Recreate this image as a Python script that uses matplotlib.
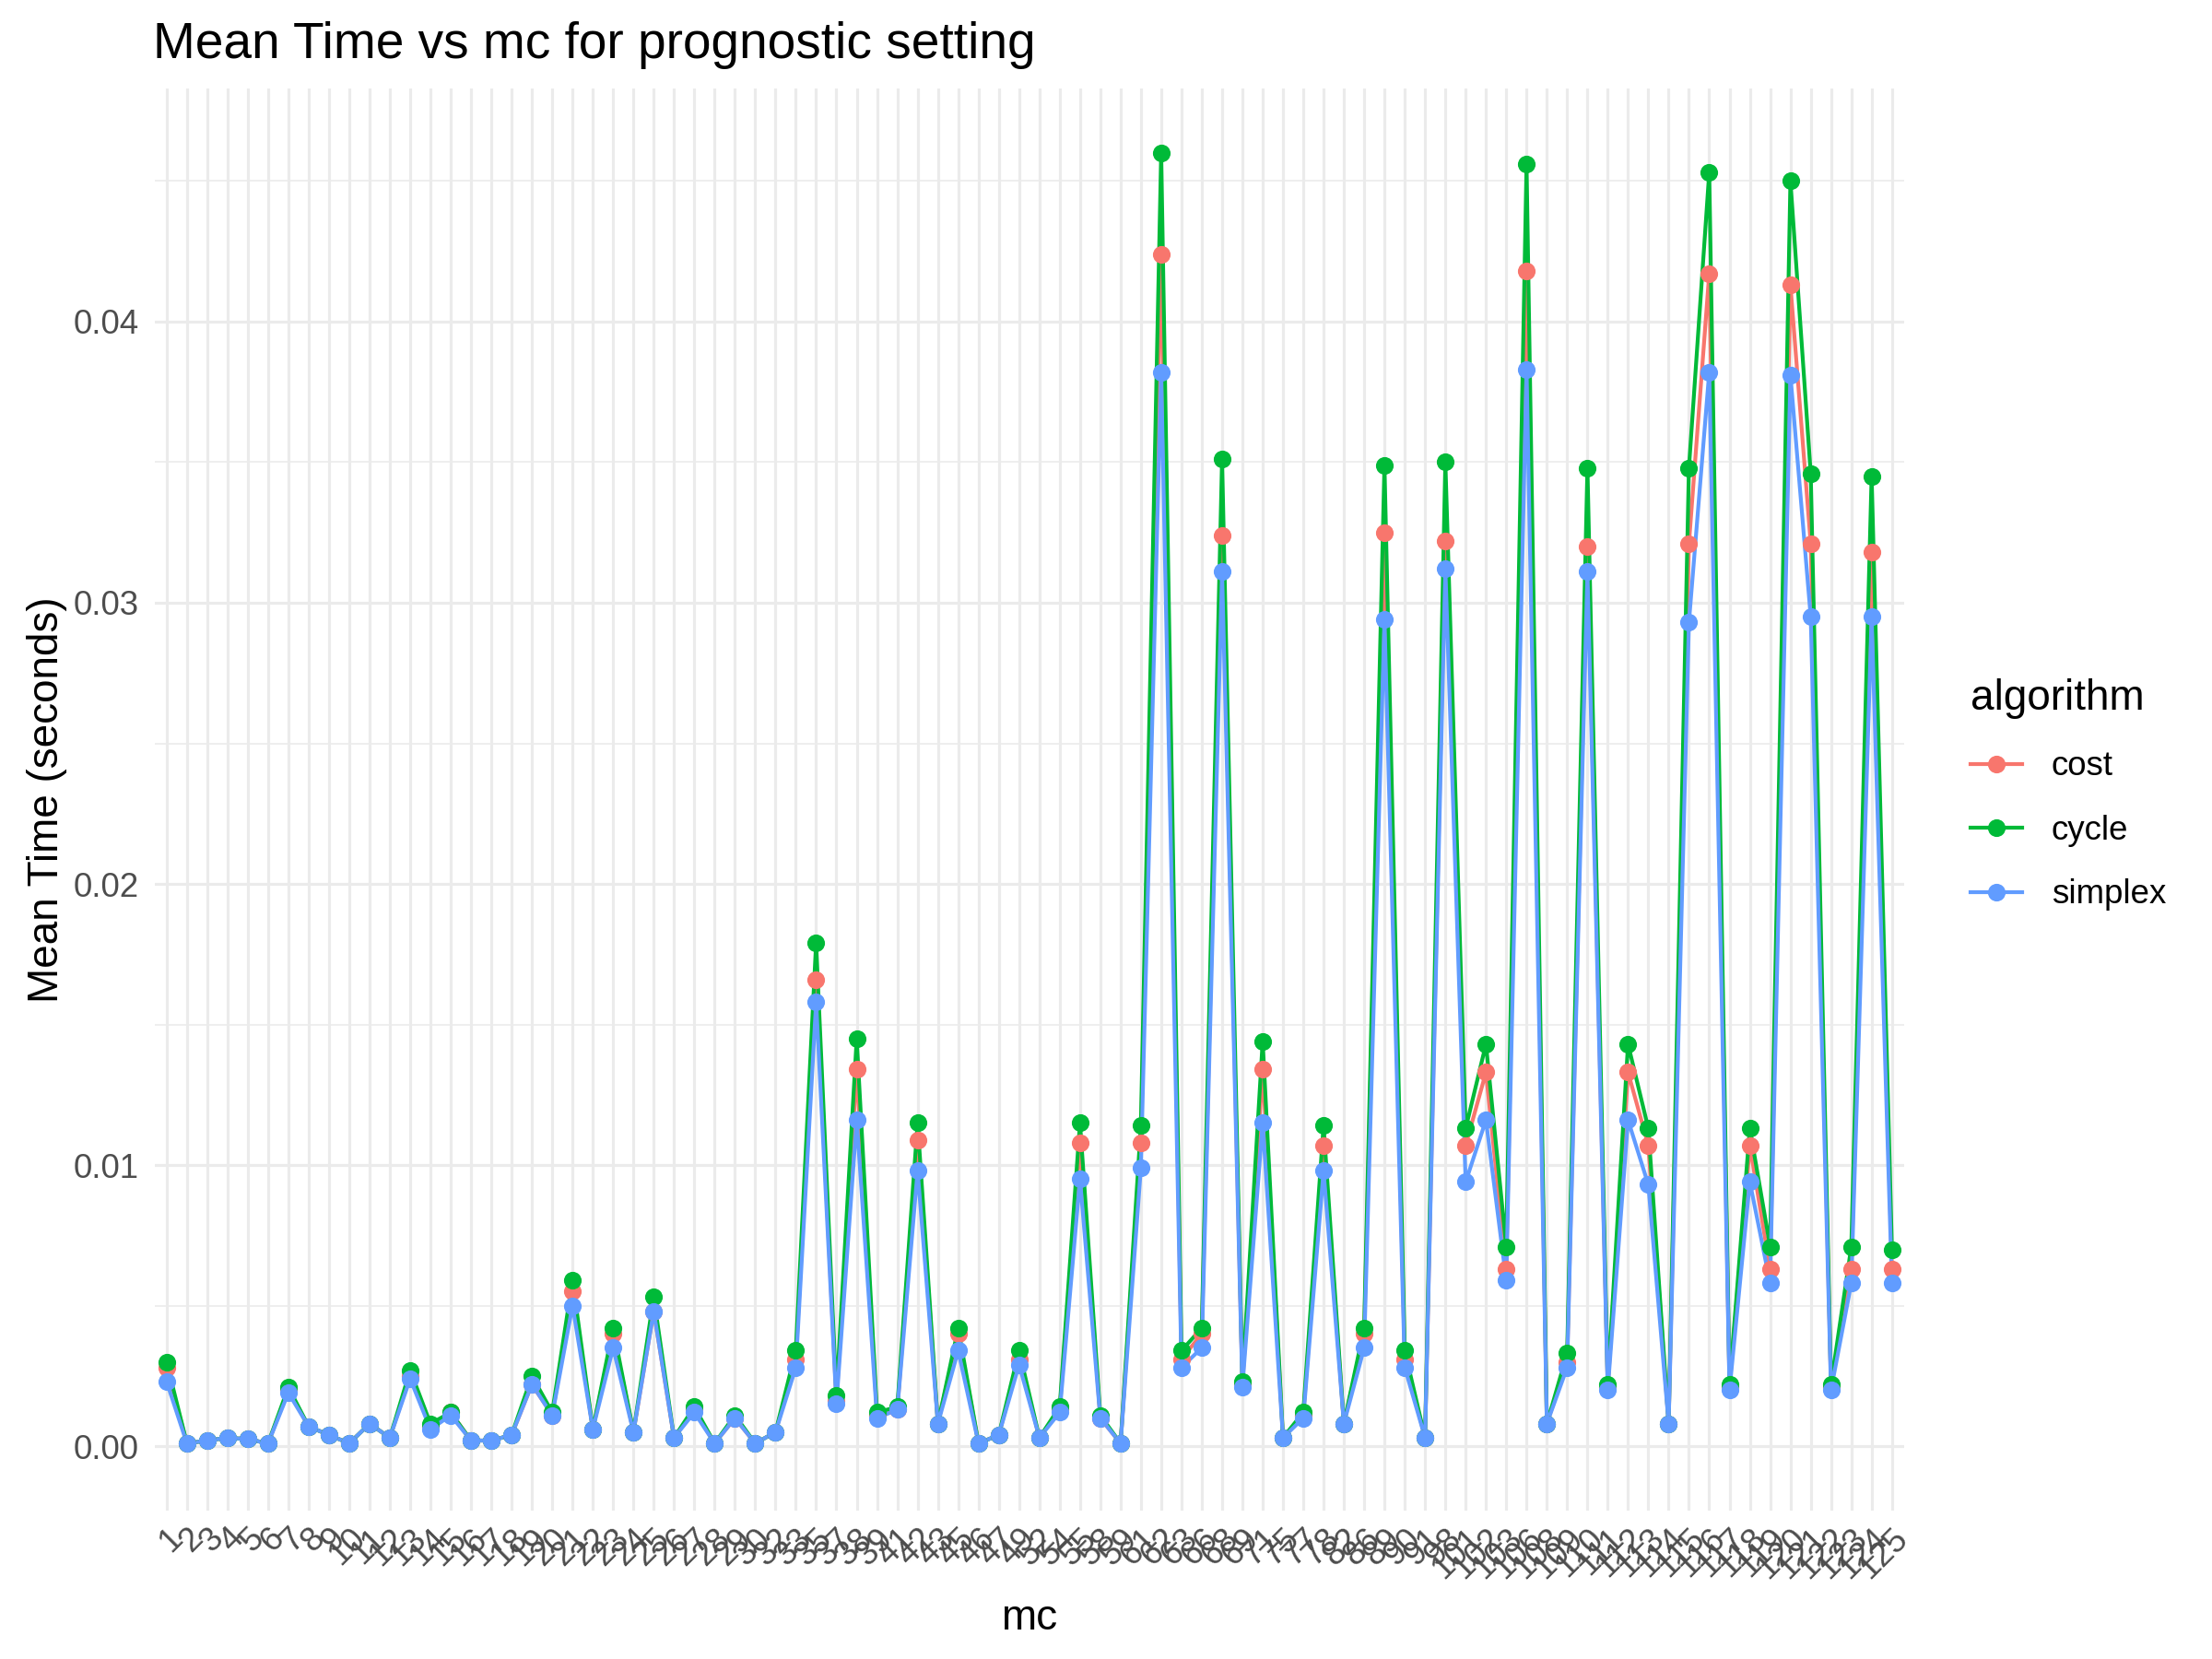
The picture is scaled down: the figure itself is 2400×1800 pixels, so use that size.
import numpy as np
import matplotlib.pyplot as plt
from matplotlib.lines import Line2D

plt.rcParams['font.family'] = ['Liberation Sans', 'DejaVu Sans']

# mc levels (plotted as discrete categories)
mc = list(range(1, 31)) + [32, 33, 35, 37, 38, 39, 41, 42, 43, 45, 46, 47, 49, 52,
                           54, 55, 58, 59, 61, 62, 63, 66, 68, 69, 71, 75, 77, 78,
                           82, 86, 89, 90, 91, 98, 101, 102, 103, 106, 108, 109,
                           110, 111, 112, 113, 114, 115, 116, 117, 118, 119, 120,
                           121, 122, 123, 124, 125]

cycle = [0.0030, 0.0001, 0.0002, 0.0003, 0.00025, 0.0001, 0.0021, 0.0007, 0.0004, 0.0001,
         0.0008, 0.0003, 0.0027, 0.0008, 0.0012, 0.0002, 0.0002, 0.0004, 0.0025, 0.0012,
         0.0059, 0.0006, 0.0042, 0.0005, 0.0053, 0.0003, 0.0014, 0.0001, 0.0011, 0.0001,
         0.0005, 0.0034, 0.0179, 0.0018, 0.0145, 0.0012, 0.0014, 0.0115, 0.0008, 0.0042,
         0.0001, 0.0004, 0.0034, 0.0003, 0.0014, 0.0115, 0.0011, 0.0001, 0.0114, 0.0460,
         0.0034, 0.0042, 0.0351, 0.0023, 0.0144, 0.0003, 0.0012, 0.0114, 0.0008, 0.0042,
         0.0349, 0.0034, 0.0003, 0.0350, 0.0113, 0.0143, 0.0071, 0.0456, 0.0008, 0.0033,
         0.0348, 0.0022, 0.0143, 0.0113, 0.0008, 0.0348, 0.0453, 0.0022, 0.0113, 0.0071,
         0.0450, 0.0346, 0.0022, 0.0071, 0.0345, 0.0070]

cost = [0.0028, 0.0001, 0.0002, 0.0003, 0.00025, 0.0001, 0.0020, 0.0007, 0.0004, 0.0001,
        0.0008, 0.0003, 0.0025, 0.0007, 0.0012, 0.0002, 0.0002, 0.0004, 0.0022, 0.0011,
        0.0055, 0.0006, 0.0040, 0.0005, 0.0048, 0.0003, 0.0013, 0.0001, 0.0010, 0.0001,
        0.0005, 0.0031, 0.0166, 0.0016, 0.0134, 0.0011, 0.0013, 0.0109, 0.0008, 0.0040,
        0.0001, 0.0004, 0.0031, 0.0003, 0.0013, 0.0108, 0.0010, 0.0001, 0.0108, 0.0424,
        0.0031, 0.0040, 0.0324, 0.0022, 0.0134, 0.0003, 0.0011, 0.0107, 0.0008, 0.0040,
        0.0325, 0.0031, 0.0003, 0.0322, 0.0107, 0.0133, 0.0063, 0.0418, 0.0008, 0.0030,
        0.0320, 0.0021, 0.0133, 0.0107, 0.0008, 0.0321, 0.0417, 0.0021, 0.0107, 0.0063,
        0.0413, 0.0321, 0.0021, 0.0063, 0.0318, 0.0063]

simplex = [0.0023, 0.0001, 0.0002, 0.0003, 0.00025, 0.0001, 0.0019, 0.0007, 0.0004, 0.0001,
           0.0008, 0.0003, 0.0024, 0.0006, 0.0011, 0.0002, 0.0002, 0.0004, 0.0022, 0.0011,
           0.0050, 0.0006, 0.0035, 0.0005, 0.0048, 0.0003, 0.0012, 0.0001, 0.0010, 0.0001,
           0.0005, 0.0028, 0.0158, 0.0015, 0.0116, 0.0010, 0.0013, 0.0098, 0.0008, 0.0034,
           0.0001, 0.0004, 0.0029, 0.0003, 0.0012, 0.0095, 0.0010, 0.0001, 0.0099, 0.0382,
           0.0028, 0.0035, 0.0311, 0.0021, 0.0115, 0.0003, 0.0010, 0.0098, 0.0008, 0.0035,
           0.0294, 0.0028, 0.0003, 0.0312, 0.0094, 0.0116, 0.0059, 0.0383, 0.0008, 0.0028,
           0.0311, 0.0020, 0.0116, 0.0093, 0.0008, 0.0293, 0.0382, 0.0020, 0.0094, 0.0058,
           0.0381, 0.0295, 0.0020, 0.0058, 0.0295, 0.0058]

algorithms = ['cost', 'cycle', 'simplex']
colors = {'cost': '#F8766D', 'cycle': '#00BA38', 'simplex': '#619CFF'}
series = {'cost': cost, 'cycle': cycle, 'simplex': simplex}

fig = plt.figure(figsize=(8, 6), dpi=300)
ax = fig.add_axes([0.0698, 0.0893, 0.791, 0.8575])

x = np.arange(len(mc))
# lines first, then points (like the ggplot layers)
for a in algorithms:
    ax.plot(x, series[a], color=colors[a], lw=1.0, zorder=2)
for a in algorithms:
    ax.plot(x, series[a], 'o', color=colors[a], ms=4.6, mew=0, zorder=3)

# ggplot-like discrete axis and expansion
ax.set_xlim(-0.6, len(mc) - 1 + 0.6)
ymax = max(max(cost), max(cycle), max(simplex))
ax.set_ylim(-0.05 * ymax, ymax * 1.05)
ax.set_xticks(x)
ax.set_xticklabels([str(v) for v in mc], rotation=45, ha='right',
                   rotation_mode='anchor', fontsize=8.8, color='#4D4D4D')
ax.set_yticks([0, 0.01, 0.02, 0.03, 0.04])
ax.set_yticklabels(['0.00', '0.01', '0.02', '0.03', '0.04'])
ax.set_yticks([0.005, 0.015, 0.025, 0.035, 0.045], minor=True)
ax.tick_params(axis='y', labelsize=8.8, labelcolor='#4D4D4D', length=0, pad=4)
ax.tick_params(axis='x', length=0, pad=3)
ax.tick_params(which='minor', length=0)

ax.grid(True, which='major', color='#EBEBEB', lw=0.75, zorder=0)
ax.grid(True, which='minor', axis='y', color='#EBEBEB', lw=0.4, zorder=0)
ax.set_axisbelow(True)
for s in ax.spines.values():
    s.set_visible(False)

ax.set_xlabel('mc', fontsize=11, labelpad=3.5)
ax.set_ylabel('Mean Time (seconds)', fontsize=11, labelpad=1.5)
fig.text(0.069, 0.973, 'Mean Time vs mc for prognostic setting', fontsize=13.2,
         ha='left', va='center')

handles = [Line2D([], [], color=colors[a], lw=1.0, marker='o', ms=4.6, mew=0)
           for a in algorithms]
leg = fig.legend(handles, algorithms, loc='center left', bbox_to_anchor=(0.877, 0.521),
                 frameon=False, fontsize=8.8, title='algorithm', title_fontsize=11,
                 labelspacing=0.94, handlelength=1.53, handletextpad=0.87)
leg._legend_box.align = 'left'

fig.savefig('out.png', dpi=300)
